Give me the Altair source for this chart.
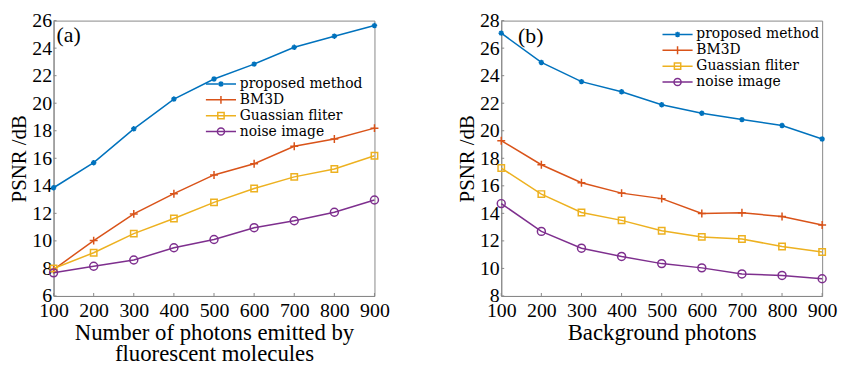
import altair as alt
import pandas as pd

x_vals = [100, 200, 300, 400, 500, 600, 700, 800, 900]
series_names = ["proposed method", "BM3D", "Guassian fliter", "noise image"]

a_proposed = [13.86, 15.68, 18.14, 20.30, 21.76, 22.84, 24.06, 24.87, 25.64]
a_bm3d = [7.92, 10.02, 11.96, 13.43, 14.79, 15.60, 16.87, 17.40, 18.19]
a_gauss = [7.99, 9.14, 10.53, 11.63, 12.80, 13.81, 14.65, 15.22, 16.18]
a_noise = [7.68, 8.16, 8.61, 9.50, 10.10, 10.96, 11.46, 12.08, 12.97]
a_yticks = [6, 8, 10, 12, 14, 16, 18, 20, 22, 24, 26]

b_proposed = [27.09, 24.96, 23.57, 22.83, 21.89, 21.27, 20.81, 20.38, 19.40]
b_bm3d = [19.28, 17.53, 16.22, 15.47, 15.07, 13.99, 14.04, 13.77, 13.15]
b_gauss = [17.29, 15.40, 14.06, 13.49, 12.74, 12.29, 12.14, 11.59, 11.19]
b_noise = [14.71, 12.69, 11.47, 10.87, 10.35, 10.04, 9.60, 9.49, 9.25]
b_yticks = [8, 10, 12, 14, 16, 18, 20, 22, 24, 26, 28]

colors = ["#0072BD", "#D95319", "#EDB120", "#7E2F8E"]
AXIS_GRAY = "#888888"
FONT = "Liberation Serif"
LEGEND_FONT = "DejaVu Serif"

# marker shapes (unit box -1..1)
marker_paths = [
    "M-1,0H1M0,-1V1M-0.7,-0.7L0.7,0.7M-0.7,0.7L0.7,-0.7",
    "M-1,0H1M0,-1V1",
    "M-1,-1H1V1H-1Z",
    "M-1,0A1,1 0 1,1 1,0A1,1 0 1,1 -1,0Z",
]
marker_sizes = [30, 64, 42, 64]

# legend symbols (unit = 8 px): line segment of ~30 px + marker
legend_paths = [
    "M-1.9,0H1.9M-0.35,0H0.35M0,-0.35V0.35M-0.25,-0.25L0.25,0.25M-0.25,0.25L0.25,-0.25",
    "M-1.9,0H1.9M0,-0.5V0.5",
    "M-1.9,0H1.9M-0.4,-0.4H0.4V0.4H-0.4Z",
    "M-1.9,0H1.9M-0.45,0A0.45,0.45 0 1,1 0.45,0A0.45,0.45 0 1,1 -0.45,0Z",
]


def panel(values, y_ticks, x_title, tag, legend_x, legend_y, tag_x, tag_y):
    rows = []
    for name, vals in zip(series_names, values):
        for xv, yv in zip(x_vals, vals):
            rows.append({"x": xv, "y": yv, "series": name})
    df = pd.DataFrame(rows)
    base = alt.Chart(df)
    y_domain = [y_ticks[0], y_ticks[-1]]

    xenc = alt.X(
        "x:Q",
        scale=alt.Scale(domain=[100, 900], nice=False, zero=False),
        axis=alt.Axis(values=x_vals, title=x_title, labelFlush=False,
                      labelOverlap=False, titleFontSize=23, titleLineHeight=21,
                      labelPadding=5, titlePadding=1),
    )
    yenc = alt.Y(
        "y:Q",
        scale=alt.Scale(domain=y_domain, nice=False, zero=False),
        axis=alt.Axis(values=y_ticks, title="PSNR /dB", labelFlush=False,
                      labelOverlap=False, titleFontSize=21, labelPadding=2,
                      titlePadding=2),
    )

    layers = []
    # inward ticks
    layers.append(
        alt.Chart(pd.DataFrame({"x": x_vals})).mark_rule(color=AXIS_GRAY, strokeWidth=1)
        .encode(x=xenc, y=alt.value(278), y2=alt.value(275))
    )
    layers.append(
        alt.Chart(pd.DataFrame({"y": y_ticks})).mark_rule(color=AXIS_GRAY, strokeWidth=1)
        .encode(y=yenc, x=alt.value(0), x2=alt.value(3))
    )

    for name, c, shp, sz in zip(series_names, colors, marker_paths, marker_sizes):
        sub = base.transform_filter(alt.datum.series == name)
        layers.append(sub.mark_line(color=c, strokeWidth=1.5).encode(x=xenc, y=yenc))
        layers.append(
            sub.mark_point(shape=shp, size=sz, filled=False, strokeWidth=1.5,
                           opacity=1, color=c)
            .encode(x=xenc, y=yenc)
        )

    leg = alt.Legend(
        title=None, orient="none", legendX=legend_x, legendY=legend_y,
        symbolSize=256, symbolStrokeWidth=1.5, symbolOpacity=1,
        labelFont=LEGEND_FONT, labelFontSize=14, labelColor="black",
        rowPadding=0, padding=0, labelOffset=10,
    )
    legend_layer = base.mark_point(filled=False, opacity=0).encode(
        x=xenc, y=yenc,
        color=alt.Color("series:N", scale=alt.Scale(domain=series_names, range=colors), legend=leg),
        shape=alt.Shape("series:N", scale=alt.Scale(domain=series_names, range=legend_paths), legend=leg),
    )
    layers.append(legend_layer)

    tag_layer = alt.Chart(pd.DataFrame({"t": [tag]})).mark_text(
        font=FONT, fontSize=22, align="left", baseline="middle", color="black"
    ).encode(x=alt.value(tag_x), y=alt.value(tag_y), text="t:N")
    layers.append(tag_layer)

    return alt.layer(*layers).properties(width=324, height=278)


pa = panel([a_proposed, a_bm3d, a_gauss, a_noise], a_yticks,
           ["Number of photons emitted by", "fluorescent molecules"], "(a)",
           160, 55, 3, 15)
pb = panel([b_proposed, b_bm3d, b_gauss, b_noise], b_yticks,
           "Background photons", "(b)", 169, 5, 17, 16)

chart = (
    alt.hconcat(pa, pb, spacing=66)
    .resolve_scale(color="independent", shape="independent")
    .properties(padding=0)
    .configure_view(stroke=AXIS_GRAY, strokeWidth=1)
    .configure_axis(
        labelFont=FONT, titleFont=FONT, labelFontSize=20, labelColor="black",
        titleColor="black", titleFontWeight="normal", grid=False, ticks=False,
        domainColor=AXIS_GRAY,
    )
)

chart.save("out.html", embed_options={"renderer": "svg", "actions": False})
